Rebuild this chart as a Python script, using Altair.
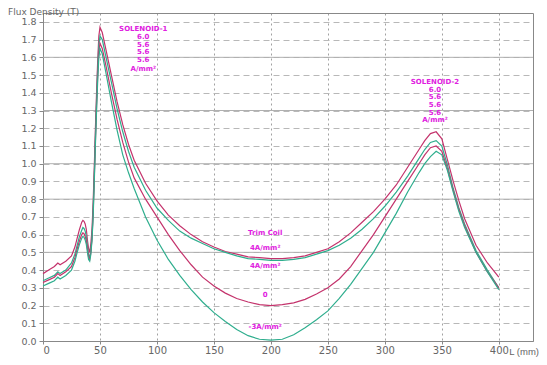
import altair as alt
import pandas as pd

# ---------------- data ----------------
L_mm = [0, 5, 10, 13, 15, 20, 25, 28, 30, 32, 34, 35, 36, 37, 38, 39, 40, 41, 42, 43,
        44, 45, 46, 47, 48, 49, 50, 52, 55, 60, 65, 70, 75, 80, 90, 100, 110, 120, 130, 140,
        150, 160, 170, 180, 190, 200, 210, 220, 230, 240, 250, 260, 270, 280, 290, 300, 310, 320, 330, 335,
        340, 345, 350, 355, 360, 365, 370, 380, 390, 400]

red_trim_p4 = [0.38, 0.40, 0.42, 0.44, 0.43, 0.45, 0.48, 0.53, 0.58, 0.63, 0.67, 0.68, 0.675, 0.66, 0.63, 0.57, 0.52, 0.50, 0.55, 0.63,
               0.78, 0.98, 1.20, 1.40, 1.58, 1.72, 1.77, 1.74, 1.65, 1.50, 1.35, 1.22, 1.11, 1.02, 0.89, 0.79, 0.71, 0.65, 0.60, 0.56,
               0.53, 0.505, 0.49, 0.475, 0.47, 0.465, 0.465, 0.47, 0.48, 0.50, 0.52, 0.56, 0.61, 0.67, 0.73, 0.80, 0.88, 0.98, 1.08, 1.13,
               1.17, 1.18, 1.14, 1.02, 0.90, 0.79, 0.69, 0.54, 0.44, 0.36]

green_trim_p4 = [0.34, 0.355, 0.37, 0.39, 0.38, 0.40, 0.44, 0.49, 0.54, 0.59, 0.625, 0.64, 0.635, 0.62, 0.59, 0.54, 0.49, 0.47, 0.51, 0.59,
                 0.74, 0.94, 1.16, 1.36, 1.54, 1.67, 1.72, 1.70, 1.61, 1.46, 1.31, 1.18, 1.07, 0.98, 0.85, 0.75, 0.68, 0.62, 0.58, 0.55,
                 0.52, 0.50, 0.48, 0.465, 0.46, 0.455, 0.455, 0.46, 0.47, 0.49, 0.51, 0.54, 0.58, 0.63, 0.69, 0.76, 0.84, 0.93, 1.03, 1.08,
                 1.12, 1.13, 1.10, 0.99, 0.86, 0.75, 0.66, 0.51, 0.40, 0.30]

red_trim_0 = [0.33, 0.345, 0.36, 0.38, 0.37, 0.39, 0.42, 0.47, 0.52, 0.565, 0.60, 0.61, 0.605, 0.59, 0.565, 0.52, 0.475, 0.46, 0.50, 0.58,
              0.72, 0.92, 1.13, 1.33, 1.50, 1.63, 1.68, 1.65, 1.56, 1.40, 1.25, 1.12, 1.01, 0.92, 0.80, 0.70, 0.60, 0.51, 0.43, 0.36,
              0.31, 0.27, 0.24, 0.22, 0.205, 0.20, 0.205, 0.215, 0.235, 0.265, 0.30, 0.35, 0.42, 0.51, 0.60, 0.70, 0.80, 0.90, 1.00, 1.05,
              1.09, 1.10, 1.07, 0.97, 0.85, 0.74, 0.65, 0.50, 0.39, 0.30]

green_trim_m3 = [0.31, 0.325, 0.34, 0.36, 0.35, 0.37, 0.40, 0.45, 0.50, 0.545, 0.58, 0.59, 0.585, 0.57, 0.545, 0.50, 0.46, 0.45, 0.49, 0.57,
                 0.70, 0.90, 1.11, 1.30, 1.47, 1.60, 1.65, 1.62, 1.52, 1.35, 1.19, 1.05, 0.95, 0.86, 0.70, 0.57, 0.46, 0.37, 0.29, 0.22,
                 0.16, 0.11, 0.065, 0.03, 0.01, 0.005, 0.01, 0.035, 0.075, 0.12, 0.17, 0.24, 0.32, 0.41, 0.50, 0.61, 0.72, 0.84, 0.95, 1.00,
                 1.04, 1.07, 1.05, 0.96, 0.84, 0.73, 0.64, 0.50, 0.39, 0.29]

series_names = ["Trim 4A/mm² (red)", "Trim 4A/mm² (green)", "Trim 0", "Trim -3A/mm²"]
series_values = [red_trim_p4, green_trim_p4, red_trim_0, green_trim_m3]
series_colors = ["#c4336c", "#2fae8e", "#c4336c", "#2fae8e"]

x_ticks = [0, 50, 100, 150, 200, 250, 300, 350, 400]
y_ticks = [0.0, 0.1, 0.2, 0.3, 0.4, 0.5, 0.6, 0.7, 0.8, 0.9, 1.0, 1.1, 1.2, 1.3, 1.4, 1.5, 1.6, 1.7, 1.8]
solid_grid_levels = [0.5, 0.8, 1.0, 1.3, 1.6]

sol1_lines = ["SOLENOID-1", "6.0", "5.6", "5.6", "5.6", "A/mm²"]
sol1_L = [88, 88, 88, 88, 88, 88]
sol1_B = [1.759, 1.714, 1.672, 1.628, 1.584, 1.536]

sol2_lines = ["SOLENOID-2", "6.0", "5.6", "5.6", "5.6", "A/mm²"]
sol2_L = [344, 344, 344, 344, 344, 344]
sol2_B = [1.46, 1.417, 1.374, 1.331, 1.288, 1.245]

trim_lines = ["Trim Coil", "4A/mm²", "4A/mm²", "0", "-3A/mm²"]
trim_L = [195, 195, 195, 195, 195]
trim_B = [0.609, 0.524, 0.423, 0.259, 0.079]

# ---------------- tables ----------------
rows = []
for name, vals in zip(series_names, series_values):
    for x, y in zip(L_mm, vals):
        rows.append({"L": x, "B": y, "series": name})
curves = pd.DataFrame(rows)

labels = pd.DataFrame({
    "L": sol1_L + sol2_L + trim_L,
    "B": sol1_B + sol2_B + trim_B,
    "text": sol1_lines + sol2_lines + trim_lines,
})

FONT = "DejaVu Sans"
x_scale = alt.Scale(domain=[0, 430], nice=False, zero=False)
y_scale = alt.Scale(domain=[0, 1.85], nice=False)

x_axis = alt.Axis(values=x_ticks, title=None, grid=True, gridDash=[2, 3], gridColor="#8a8a8a",
                  gridOpacity=0.8, labelFont=FONT, labelFontSize=10, labelColor="#666",
                  tickColor="#888", tickSize=3, domainColor="#888", labelPadding=1,
                  labelOverlap=False)
y_axis = alt.Axis(values=y_ticks, format=".1f", title=None, grid=True, gridDash=[6, 4],
                  gridColor="#b8b8b8", labelFont=FONT, labelFontSize=9.5, labelColor="#666",
                  tickColor="#888", tickSize=4, domainColor="#888", labelPadding=3,
                  labelOverlap=False)

lines = alt.Chart(curves).mark_line(strokeWidth=1.2).encode(
    x=alt.X("L:Q", scale=x_scale, axis=x_axis),
    y=alt.Y("B:Q", scale=y_scale, axis=y_axis),
    color=alt.Color("series:N", scale=alt.Scale(domain=series_names, range=series_colors), legend=None),
    detail="series:N",
    order="L:Q",
)

solid = alt.Chart(pd.DataFrame({"B": solid_grid_levels})).mark_rule(
    color="#b0b0b0", strokeWidth=1).encode(y=alt.Y("B:Q", scale=y_scale, axis=y_axis))

texts = alt.Chart(labels).mark_text(
    color="#e020e0", font=FONT, fontSize=7, fontWeight="bold", baseline="middle", align="center"
).encode(x=alt.X("L:Q", scale=x_scale, axis=x_axis), y=alt.Y("B:Q", scale=y_scale, axis=y_axis),
         text="text:N")

title = alt.Chart(pd.DataFrame({"t": ["Flux Density (T)"]})).mark_text(
    align="left", baseline="top", font=FONT, fontSize=9, color="#666"
).encode(x=alt.value(-35), y=alt.value(-5), text="t:N")

xlabel = alt.Chart(pd.DataFrame({"t": ["L (mm)"]})).mark_text(
    align="right", baseline="bottom", font="Liberation Sans", fontSize=9.5, color="#666"
).encode(x=alt.value(496), y=alt.value(344), text="t:N")

chart = alt.layer(solid, lines, texts, title, xlabel).properties(
    width=490, height=328,
    padding={"left": 35, "top": 5, "right": 6, "bottom": 16},
    autosize=alt.AutoSizeParams(type="none"),
).configure_view(stroke="#888", strokeWidth=1)

chart.save("out.html", embed_options={"renderer": "svg", "actions": False})
